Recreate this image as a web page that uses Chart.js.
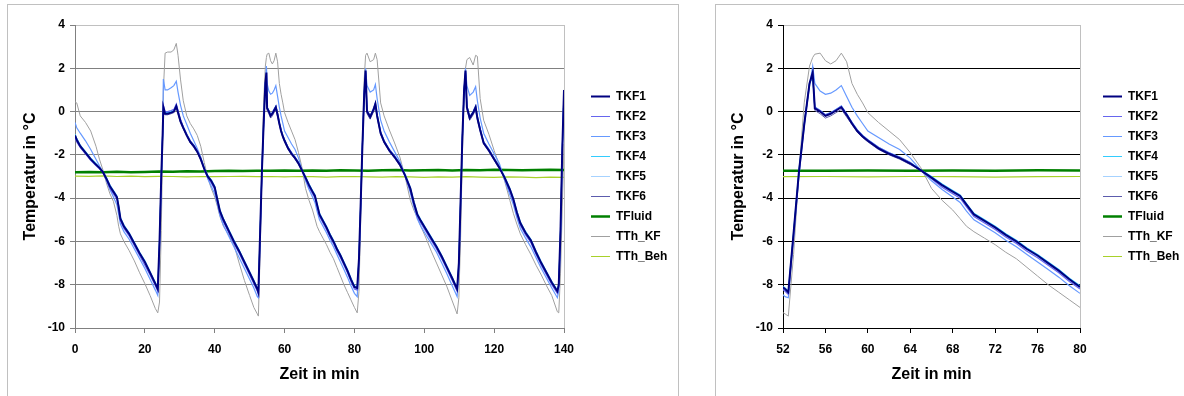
<!DOCTYPE html>
<html lang="de">
<head>
<meta charset="utf-8">
<title>Temperaturverlauf</title>
<script src="https://cdn.jsdelivr.net/npm/chart.js@4.4.1/dist/chart.umd.min.js"></script>
<style>
  html, body { margin: 0; padding: 0; background: #fff; overflow: hidden; }
  body { width: 1184px; height: 396px; position: relative; }
  .panel { position: absolute; top: 4px; height: 400px; box-sizing: border-box; border: 1px solid #c0c0c0; }
  canvas { position: absolute; top: 4px; }
</style>
</head>
<body>
<div class="panel" style="left:7px; width:672px"></div>
<div class="panel" style="left:715px; width:480px"></div>
<canvas id="gesamt" width="671" height="392" style="left:7px"></canvas>
<canvas id="ausschnitt" width="469" height="392" style="left:715px"></canvas>
<script>
// Zeit in min (fuer TKF1..TKF6 und TTh_KF), eine Zeile je Zyklus
const zeit = [
  0, 0.5, 1.5, 3, 4.5, 6, 7, 8, 9, 10, 11, 12, 12.5, 13, 14, 15.5, 17, 18.5, 20, 21.5, 23, 23.7,
  24.2, 24.7, 25.1, 25.3, 25.8, 26.5, 27.5, 28.3, 29, 29.5, 30.2, 31, 32, 33, 34, 35, 36, 37, 38, 39, 40, 40.8, 41.5, 42.5, 44, 45.5, 47, 48.5, 50, 51.2, 52.2,
  52.5, 53, 53.5, 54, 54.5, 54.8, 55, 55.5, 56, 56.5, 57, 57.5, 58, 58.5, 59, 59.5, 60, 61, 62, 63, 64, 65, 66, 67, 68, 68.7, 69.3, 70, 71, 72, 73, 74, 75, 76, 77, 78, 79, 80, 80.8,
  81.3, 81.8, 82.3, 82.8, 83.2, 83.6, 84.5, 85.5, 86, 86.5, 87.5, 88.5, 90, 91.5, 93, 94.5, 96, 97, 98, 99, 100.5, 102, 103.5, 105, 106.5, 108, 109.4,
  109.9, 110.4, 110.9, 111.4, 111.8, 112.2, 113, 114, 114.7, 115.2, 116, 117, 118.5, 120, 121.5, 123, 124.5, 125.5, 126.5, 127.5, 129, 130.5, 132, 133.5, 135, 136.5, 138.1, 138.5, 139, 139.5, 140
];

const tkf1 = [
  -1.1, -1.3, -1.6, -1.9, -2.2, -2.45, -2.6, -2.8, -3.1, -3.45, -3.7, -3.95, -4.4, -4.95, -5.3, -5.65, -6.1, -6.55, -6.95, -7.45, -7.95, -8.2,
  -6.0, -3.0, -1.0, 0.2, -0.1, -0.1, -0.05, 0.0, 0.25, -0.05, -0.45, -0.75, -1.1, -1.4, -1.6, -1.85, -2.2, -2.65, -3.0, -3.2, -3.5, -4.1, -4.6, -5.0, -5.5, -6.0, -6.45, -6.95, -7.45, -7.85, -8.2,
  -8.35, -5.6, -2.8, -0.6, 1.3, 1.8, 0.15, 0.0, -0.2, -0.1, 0.05, 0.2, -0.15, -0.55, -0.9, -1.15, -1.35, -1.7, -1.95, -2.15, -2.4, -2.72, -3.05, -3.4, -3.7, -3.9, -4.3, -4.75, -5.05, -5.35, -5.7, -6.0, -6.35, -6.65, -7.0, -7.35, -7.75, -8.1, -8.15,
  -6.8, -4.2, -1.5, 0.8, 1.9, 0.0, -0.25, 0.1, 0.35, -0.2, -1.0, -1.4, -1.8, -2.1, -2.45, -2.95, -3.55, -4.2, -4.75, -5.05, -5.45, -5.85, -6.25, -6.7, -7.2, -7.7, -8.2,
  -7.0, -4.1, -1.2, 1.0, 1.9, 0.2, -0.3, -0.05, 0.2, -0.3, -0.85, -1.45, -1.8, -2.2, -2.6, -3.05, -3.6, -4.05, -4.65, -5.15, -5.6, -5.95, -6.5, -7.0, -7.45, -7.9, -8.3, -8.0, -5.5, -1.8, 1.0
];
const tkf2 = [
  -1.2, -1.4, -1.65, -1.95, -2.25, -2.5, -2.65, -2.8, -3.15, -3.55, -3.8, -4.05, -4.5, -5.05, -5.4, -5.75, -6.2, -6.65, -7.1, -7.55, -8.05, -8.3,
  -6.1, -3.1, -1.0, 0.3, 0.0, 0.0, 0.05, 0.1, 0.35, 0.05, -0.35, -0.7, -1.05, -1.35, -1.55, -1.8, -2.15, -2.65, -3.05, -3.3, -3.6, -4.2, -4.7, -5.1, -5.6, -6.1, -6.55, -7.05, -7.55, -7.95, -8.3,
  -8.45, -5.7, -2.9, -0.6, 1.3, 1.7, 0.2, 0.05, -0.15, -0.05, 0.1, 0.25, -0.1, -0.5, -0.85, -1.1, -1.3, -1.65, -1.9, -2.1, -2.35, -2.72, -3.1, -3.5, -3.8, -4.0, -4.4, -4.85, -5.15, -5.45, -5.8, -6.1, -6.45, -6.75, -7.1, -7.45, -7.85, -8.2, -8.25,
  -6.9, -4.3, -1.5, 0.8, 1.8, 0.1, -0.2, 0.15, 0.4, -0.15, -0.95, -1.35, -1.75, -2.05, -2.4, -3.0, -3.65, -4.3, -4.85, -5.15, -5.55, -5.95, -6.35, -6.8, -7.3, -7.8, -8.3,
  -7.1, -4.2, -1.2, 1.0, 1.8, 0.25, -0.25, 0.0, 0.25, -0.25, -0.8, -1.4, -1.75, -2.15, -2.55, -3.1, -3.7, -4.15, -4.75, -5.25, -5.7, -6.05, -6.6, -7.1, -7.55, -8.0, -8.4, -8.1, -5.6, -1.9, 1.0
];
const tkf3 = [
  -0.5, -0.75, -1.0, -1.35, -1.75, -2.2, -2.5, -2.8, -3.2, -3.6, -3.95, -4.3, -4.75, -5.2, -5.55, -5.9, -6.35, -6.8, -7.25, -7.75, -8.25, -8.5,
  -6.3, -3.2, -1.0, 1.5, 1.0, 1.0, 1.1, 1.2, 1.4, 0.9, 0.3, -0.2, -0.6, -1.0, -1.35, -1.7, -2.1, -2.6, -3.1, -3.45, -3.8, -4.3, -4.8, -5.25, -5.75, -6.25, -6.75, -7.25, -7.75, -8.15, -8.55,
  -8.6, -5.8, -3.0, -0.7, 1.2, 2.1, 1.3, 0.95, 0.8, 0.85, 1.0, 1.2, 0.7, 0.2, -0.2, -0.55, -0.9, -1.2, -1.5, -1.75, -2.15, -2.72, -3.2, -3.6, -3.95, -4.2, -4.6, -5.0, -5.3, -5.6, -5.95, -6.25, -6.6, -6.95, -7.3, -7.65, -8.05, -8.4, -8.55,
  -7.0, -4.4, -1.6, 0.9, 2.0, 1.2, 0.9, 1.0, 1.25, 0.6, -0.4, -0.9, -1.4, -1.85, -2.3, -2.95, -3.75, -4.4, -4.95, -5.3, -5.7, -6.1, -6.5, -7.0, -7.5, -8.05, -8.55,
  -7.3, -4.3, -1.3, 1.0, 2.0, 1.2, 0.75, 0.9, 1.15, 0.5, -0.3, -1.0, -1.5, -1.95, -2.4, -3.15, -3.85, -4.3, -4.9, -5.4, -5.85, -6.25, -6.75, -7.25, -7.7, -8.15, -8.6, -8.3, -5.8, -2.0, 0.9
];
const tkf4 = [
  -1.05, -1.25, -1.55, -1.85, -2.15, -2.4, -2.6, -2.8, -3.05, -3.4, -3.65, -3.9, -4.35, -4.9, -5.25, -5.6, -6.05, -6.5, -6.9, -7.4, -7.9, -8.15,
  -6.0, -3.0, -1.0, 0.15, -0.05, -0.05, 0.0, 0.05, 0.3, 0.0, -0.4, -0.7, -1.05, -1.35, -1.55, -1.8, -2.15, -2.6, -2.95, -3.15, -3.45, -4.05, -4.55, -4.95, -5.45, -5.95, -6.4, -6.9, -7.4, -7.8, -8.15,
  -8.3, -5.55, -2.75, -0.55, 1.3, 1.6, 0.2, 0.05, -0.15, -0.05, 0.1, 0.25, -0.1, -0.5, -0.85, -1.1, -1.3, -1.65, -1.9, -2.1, -2.35, -2.7, -3.0, -3.35, -3.65, -3.85, -4.25, -4.7, -5.0, -5.3, -5.65, -5.95, -6.3, -6.6, -6.95, -7.3, -7.7, -8.05, -8.1,
  -6.8, -4.2, -1.5, 0.8, 1.7, 0.05, -0.2, 0.15, 0.4, -0.15, -0.95, -1.35, -1.75, -2.05, -2.4, -2.9, -3.5, -4.15, -4.7, -5.0, -5.4, -5.8, -6.2, -6.65, -7.15, -7.65, -8.15,
  -7.0, -4.1, -1.2, 1.0, 1.7, 0.25, -0.25, 0.0, 0.25, -0.25, -0.8, -1.4, -1.75, -2.15, -2.55, -3.0, -3.55, -4.0, -4.6, -5.1, -5.55, -5.9, -6.45, -6.95, -7.4, -7.85, -8.25, -7.95, -5.5, -1.8, 1.0
];
const tkf5 = [
  -1.15, -1.35, -1.6, -1.9, -2.2, -2.45, -2.6, -2.8, -3.1, -3.5, -3.75, -4.0, -4.45, -5.0, -5.35, -5.7, -6.15, -6.6, -7.0, -7.5, -8.0, -8.25,
  -6.0, -3.0, -1.0, 0.25, -0.05, -0.05, 0.0, 0.05, 0.3, 0.0, -0.4, -0.75, -1.1, -1.4, -1.6, -1.85, -2.2, -2.65, -3.05, -3.25, -3.55, -4.15, -4.65, -5.05, -5.55, -6.05, -6.5, -7.0, -7.5, -7.9, -8.25,
  -8.4, -5.65, -2.85, -0.6, 1.3, 1.75, 0.25, 0.05, -0.15, -0.05, 0.1, 0.25, -0.1, -0.5, -0.85, -1.1, -1.3, -1.65, -1.9, -2.1, -2.35, -2.72, -3.05, -3.45, -3.75, -3.95, -4.35, -4.8, -5.1, -5.4, -5.75, -6.05, -6.4, -6.7, -7.05, -7.4, -7.8, -8.15, -8.2,
  -6.85, -4.25, -1.5, 0.8, 1.85, 0.1, -0.2, 0.15, 0.4, -0.15, -0.95, -1.35, -1.75, -2.05, -2.4, -2.95, -3.6, -4.25, -4.8, -5.1, -5.5, -5.9, -6.3, -6.75, -7.25, -7.75, -8.25,
  -7.05, -4.15, -1.2, 1.0, 1.85, 0.25, -0.25, 0.0, 0.25, -0.25, -0.8, -1.4, -1.75, -2.15, -2.55, -3.05, -3.65, -4.1, -4.7, -5.2, -5.65, -6.0, -6.55, -7.05, -7.5, -7.95, -8.35, -8.05, -5.55, -1.85, 1.0
];
const tkf6 = [
  -1.15, -1.35, -1.65, -1.95, -2.25, -2.45, -2.6, -2.8, -3.1, -3.45, -3.7, -3.95, -4.4, -4.95, -5.3, -5.65, -6.1, -6.55, -6.95, -7.45, -7.95, -8.2,
  -6.0, -3.0, -1.0, 0.1, -0.15, -0.15, -0.1, -0.05, 0.2, -0.1, -0.5, -0.8, -1.15, -1.45, -1.65, -1.9, -2.25, -2.65, -3.0, -3.2, -3.5, -4.1, -4.6, -5.0, -5.5, -6.0, -6.45, -6.95, -7.45, -7.85, -8.2,
  -8.35, -5.6, -2.8, -0.6, 1.3, 1.7, 0.05, -0.1, -0.3, -0.2, -0.05, 0.1, -0.25, -0.6, -0.95, -1.2, -1.4, -1.75, -2.0, -2.2, -2.45, -2.72, -3.05, -3.4, -3.7, -3.9, -4.3, -4.75, -5.05, -5.35, -5.7, -6.0, -6.35, -6.65, -7.0, -7.35, -7.75, -8.1, -8.15,
  -6.8, -4.2, -1.5, 0.8, 1.8, -0.1, -0.35, 0.0, 0.25, -0.3, -1.05, -1.45, -1.85, -2.15, -2.5, -2.95, -3.55, -4.2, -4.75, -5.05, -5.45, -5.85, -6.25, -6.7, -7.2, -7.7, -8.2,
  -7.0, -4.1, -1.2, 1.0, 1.8, 0.1, -0.4, -0.15, 0.1, -0.4, -0.9, -1.5, -1.85, -2.25, -2.65, -3.05, -3.6, -4.05, -4.65, -5.15, -5.6, -5.95, -6.5, -7.0, -7.45, -7.9, -8.3, -8.0, -5.5, -1.8, 1.0
];
const tthKF = [
  0.45, 0.4, -0.2, -0.5, -0.9, -1.6, -2.2, -2.7, -3.3, -3.8, -4.15, -4.8, -5.3, -5.65, -6.0, -6.42, -6.9, -7.45, -7.95, -8.5, -9.1, -9.3,
  -8.8, -5.5, -1.5, 1.0, 2.7, 2.75, 2.75, 2.85, 3.15, 2.6, 1.5, 0.5, -0.2, -0.55, -0.8, -1.1, -1.6, -2.35, -3.05, -3.55, -3.95, -4.4, -4.85, -5.3, -5.7, -6.15, -7.0, -7.8, -8.5, -9.05, -9.35,
  -9.45, -6.6, -2.8, 0.4, 2.1, 2.5, 2.65, 2.7, 2.35, 2.2, 2.35, 2.7, 2.3, 1.3, 0.8, 0.4, -0.05, -0.5, -0.9, -1.3, -1.9, -2.6, -3.55, -4.1, -4.55, -4.95, -5.3, -5.55, -5.85, -6.15, -6.5, -6.8, -7.2, -7.6, -8.0, -8.35, -8.7, -9.05, -9.3,
  -8.3, -5.0, -1.5, 1.5, 2.6, 2.7, 2.3, 2.4, 2.7, 2.4, 0.4, -0.2, -0.85, -1.45, -2.1, -3.0, -4.1, -4.55, -4.9, -5.3, -5.85, -6.45, -7.0, -7.55, -8.1, -8.75, -9.35,
  -8.6, -5.8, -2.0, 0.8, 2.0, 2.4, 2.5, 2.15, 2.6, 2.55, 0.6, -0.4, -1.05, -1.8, -2.5, -3.2, -4.1, -4.7, -5.2, -5.65, -6.15, -6.6, -7.1, -7.55, -8.05, -8.5, -9.25, -9.3, -7.5, -4.5, -1.5
];

// Fluid und Behaelter: eigene, groebere Zeitachse
const zeitFluid = [0, 4, 8, 12, 16, 20, 24, 28, 32, 36, 40, 44, 48, 52, 56, 60, 64, 68, 72, 76, 80, 84, 88, 92, 96, 100, 104, 108, 112, 116, 120, 124, 128, 132, 136, 140];
const tFluid = [-2.8, -2.79, -2.8, -2.78, -2.8, -2.79, -2.77, -2.78, -2.76, -2.77, -2.75, -2.74, -2.75, -2.73, -2.74, -2.72, -2.73, -2.72, -2.74, -2.71, -2.72, -2.73, -2.71, -2.7, -2.72, -2.71, -2.7, -2.72, -2.7, -2.71, -2.69, -2.7, -2.71, -2.7, -2.69, -2.7];
const tthBeh = [-2.98, -2.99, -2.97, -3.0, -2.98, -3.01, -2.99, -3.0, -3.02, -3.0, -3.01, -3.0, -2.99, -3.01, -3.0, -3.02, -3.0, -3.01, -3.03, -3.01, -3.0, -3.02, -3.03, -3.01, -3.02, -3.04, -3.02, -3.03, -3.01, -3.03, -3.04, -3.02, -3.03, -3.05, -3.03, -3.04];

const names = ['TKF1', 'TKF2', 'TKF3', 'TKF4', 'TKF5', 'TKF6', 'TFluid', 'TTh_KF', 'TTh_Beh'];
const colors = ['#000080', '#6666ee', '#6699ff', '#33ccff', '#a6d2ff', '#5c5cad', '#008000', '#a0a0a0', '#a8d12a'];
const widths = [2, 1.2, 1.2, 1.2, 1, 1, 2.5, 1, 1.2];

const FONT = 'Arial, "Liberation Sans", sans-serif';

function datasets() {
  const series = [tkf1, tkf2, tkf3, tkf4, tkf5, tkf6, tFluid, tthKF, tthBeh];
  return series.map((s, i) => {
    const xs = (s === tFluid || s === tthBeh) ? zeitFluid : zeit;
    return {
      label: names[i],
      data: s.map((v, j) => ({ x: xs[j], y: v })),
      borderColor: colors[i],
      backgroundColor: colors[i],
      borderWidth: widths[i],
      pointBorderColor: colors[i],
      pointBorderWidth: widths[i],
      pointRadius: 0,
      tension: 0
    };
  });
}

// legend width, needed to put the plot area where it belongs
const measure = document.createElement('canvas').getContext('2d');
measure.font = 'bold 12px ' + FONT;
const legendWidth = 8 + 19 + 6 + Math.max(...names.map(n => measure.measureText(n).width)) + 10;

// moves the legend a bit away from the plot area
const legendShift = {
  id: 'legendShift',
  afterLayout(chart, args, opts) {
    chart.legend.left += opts.dx;
    chart.legend.right += opts.dx;
  }
};

function makeChart(id, xMin, xMax, xStep, plotRight, legendX, gridColor) {
  const canvas = document.getElementById(id);
  const tickFont = { family: FONT, size: 12, weight: 'bold' };
  const titleFont = { family: FONT, size: 16, weight: 'bold' };
  return new Chart(canvas, {
    type: 'line',
    data: { datasets: datasets() },
    plugins: [legendShift],
    options: {
      responsive: false,
      animation: false,
      events: [],
      layout: { padding: { top: 21, left: 0, bottom: 0, right: canvas.width - plotRight - legendWidth } },
      plugins: {
        legendShift: { dx: legendX - plotRight - 8 },
        tooltip: { enabled: false },
        legend: {
          position: 'right',
          align: 'center',
          fullSize: false,
          labels: {
            usePointStyle: true,
            pointStyle: 'line',
            pointStyleWidth: 19,
            boxHeight: 12,
            padding: 8,
            color: '#000',
            font: tickFont
          }
        }
      },
      scales: {
        x: {
          type: 'linear',
          min: xMin,
          max: xMax,
          afterFit: s => { s.height = 68; },
          ticks: { stepSize: xStep, color: '#000', padding: 9, maxRotation: 0, font: tickFont },
          grid: {
            color: c => (c.tick && c.tick.value === xMax) ? '#c0c0c0' : 'rgba(0,0,0,0)',
            tickColor: gridColor,
            tickLength: 5
          },
          border: { color: gridColor, width: 1 },
          title: { display: true, text: 'Zeit in min', color: '#000', font: titleFont, padding: { top: 4, bottom: 12 } }
        },
        y: {
          min: -10,
          max: 4,
          afterFit: s => { s.width = 68; },
          ticks: { stepSize: 2, color: '#000', padding: 5, font: tickFont },
          grid: {
            color: c => (c.tick && c.tick.value === 4) ? '#c0c0c0' : gridColor,
            tickColor: gridColor,
            tickLength: 5
          },
          border: { color: gridColor, width: 1 },
          title: { display: true, text: 'Temperatur in °C', color: '#000', font: titleFont, padding: { top: 14, bottom: 0 } }
        }
      }
    }
  });
}

makeChart('gesamt', 0, 140, 20, 557, 584, '#808080');
makeChart('ausschnitt', 52, 80, 4, 365, 388, '#000000');
</script>
</body>
</html>
